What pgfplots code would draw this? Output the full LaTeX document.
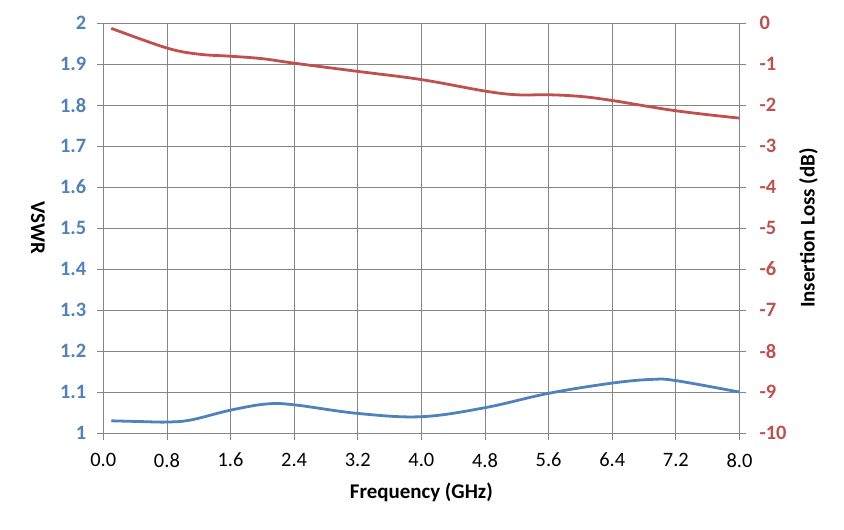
\documentclass[border=0pt]{standalone}
\usepackage{fontspec}
\setmainfont{Carlito}
\usepackage{pgfplots}
\pgfplotsset{compat=1.18}
\definecolor{vblue}{RGB}{79,129,189}
\definecolor{ired}{RGB}{192,80,77}
\definecolor{gridgray}{RGB}{134,134,134}

\pgfplotstableread{
f v
0.1 1.030
0.5 1.028
0.8 1.027
1.1 1.032
1.6 1.056
2.05 1.071
2.4 1.069
3.2 1.048
4.0 1.040
4.8 1.062
5.6 1.097
6.4 1.122
6.9 1.131
7.2 1.128
8.0 1.100
}\vswr

\pgfplotstableread{
f il
0.1 -0.13
0.8 -0.61
1.2 -0.76
1.6 -0.81
2.0 -0.87
2.4 -0.98
3.2 -1.18
4.0 -1.38
4.8 -1.66
5.2 -1.75
5.6 -1.75
6.0 -1.79
6.4 -1.89
7.2 -2.14
8.0 -2.32
}\iloss

\begin{document}
\begin{tikzpicture}[font=\fontsize{20.5}{24}\selectfont]
\begin{axis}[
  name=main,
  scale only axis, width=636bp, height=410bp,
  xmin=0, xmax=8, ymin=1, ymax=2,
  xtick={0,0.8,1.6,2.4,3.2,4.0,4.8,5.6,6.4,7.2,8.0},
  xticklabels={0.0,0.8,1.6,2.4,3.2,4.0,4.8,5.6,6.4,7.2,8.0},
  ytick={1,1.1,1.2,1.3,1.4,1.5,1.6,1.7,1.8,1.9,2},
  yticklabels={1,1.1,1.2,1.3,1.4,1.5,1.6,1.7,1.8,1.9,2},
  grid=major,
  major grid style={gridgray, line width=0.75pt},
  axis line style={gridgray, line width=0.75pt},
  tick style={gridgray, line width=0.75pt},
  tick align=outside, major tick length=6.5bp,
  xtick pos=bottom, ytick pos=left,
  yticklabel style={text=vblue, font=\fontsize{20.5}{24}\selectfont\bfseries, xshift=-7bp},
  xticklabel style={font=\fontsize{20.5}{24}\selectfont, yshift=-10bp},
  xlabel={\bfseries\fontsize{21}{24}\selectfont Frequency (GHz)},
  ylabel={\bfseries\fontsize{21}{24}\selectfont VSWR},
  xlabel style={at={(axis description cs:0.5,-0.1439)}, anchor=center},
  ylabel style={at={(axis description cs:-0.1027,0.5)}, anchor=center, rotate=180},
  clip=false,
]
\addplot[vblue, line width=2.8pt, smooth, tension=0.6] table[x=f,y=v] {\vswr};
\path[use as bounding box] (rel axis cs:-0.1624,-0.2341) rectangle (rel axis cs:1.1643,1.0561);
\end{axis}
\begin{axis}[
  at={(main.south west)}, anchor=south west,
  scale only axis, width=636bp, height=410bp,
  xmin=0, xmax=8, ymin=-10, ymax=0,
  axis x line=none,
  axis y line*=right,
  ytick={0,-1,-2,-3,-4,-5,-6,-7,-8,-9,-10},
  yticklabels={0,-1,-2,-3,-4,-5,-6,-7,-8,-9,-10},
  axis line style={gridgray, line width=0.75pt, -},
  tick style={gridgray, line width=0.75pt},
  tick align=outside, major tick length=6.5bp,
  yticklabel style={text=ired, font=\fontsize{20.5}{24}\selectfont\bfseries, xshift=10bp},
  ylabel={\bfseries\fontsize{21}{24}\selectfont Insertion Loss (dB)},
  ylabel style={at={(axis description cs:1.1085,0.5)}, anchor=center},
]
\addplot[ired, line width=2.8pt, smooth, tension=0.6] table[x=f,y=il] {\iloss};
\end{axis}
\end{tikzpicture}
\end{document}
